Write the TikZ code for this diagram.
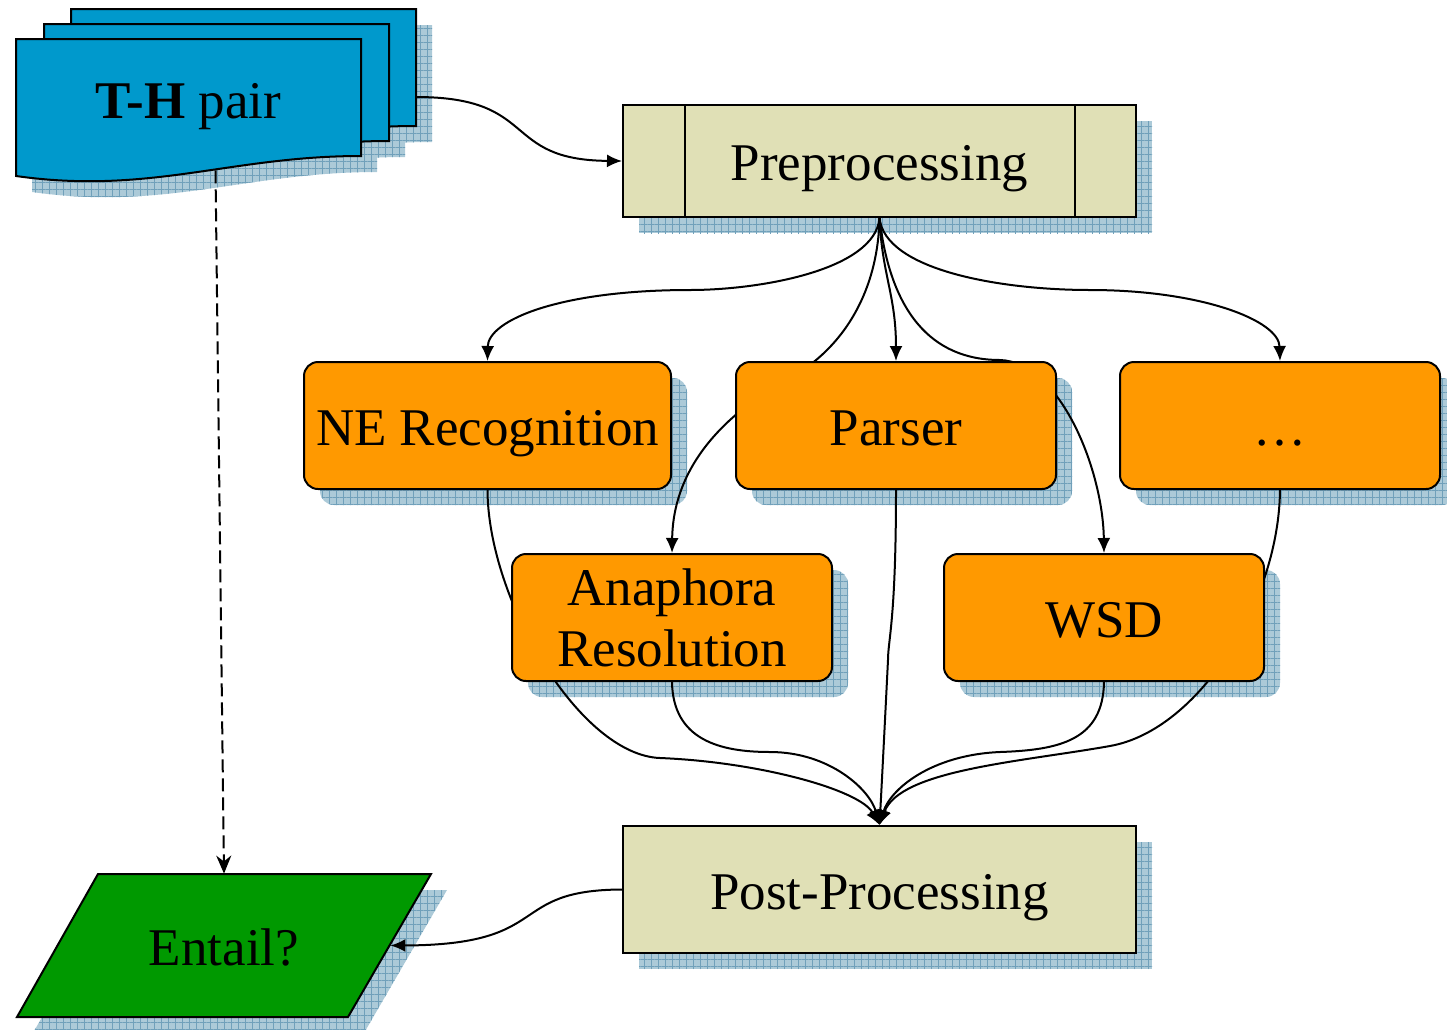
\documentclass[tikz,border=0pt]{standalone}
\usepackage{fontspec}
\setmainfont{Liberation Serif}
\usetikzlibrary{arrows.meta,patterns.meta}

\definecolor{docblue}{RGB}{0,153,204}
\definecolor{boxorange}{RGB}{255,153,0}
\definecolor{boxbeige}{RGB}{224,224,182}
\definecolor{boxgreen}{RGB}{0,153,0}
\definecolor{shadowfill}{RGB}{172,202,216}
\definecolor{shadowgrid}{RGB}{112,160,186}

\pgfdeclarelayer{shadows}
\pgfdeclarelayer{wires}
\pgfsetlayers{shadows,wires,main}

\begin{document}
\begin{tikzpicture}[
    x=0.5pt,y=0.5pt,
    >=Latex,
    wire/.style={draw=black, line width=1pt},
    arr/.style={wire, -{Latex[length=7.5pt,width=6.5pt]}},
    outline/.style={draw=black, line width=1pt},
    textfont/.style={font=\fontsize{26.5}{30.5}\selectfont},
    oneline/.style={text height=24pt, text depth=4.5pt},
    basebox/.style={outline, inner sep=0pt, textfont},
    procbox/.style={basebox, rectangle, fill=boxbeige, minimum width=256.5pt},
    modbox/.style={basebox, rectangle, rounded corners=7pt, fill=boxorange,
        minimum width=160pt, minimum height=63.5pt},
    backdrop/.style={draw=none, fill=shadowfill,
        postaction={pattern={Hatch[distance=3.5pt,angle=0,line width=0.35pt]}, pattern color=shadowgrid}}
]
\useasboundingbox (0,0) rectangle (1447,-1029);

% ===== document stack (back to front) =====
\foreach \dx/\dy in {55/30,28/15,0/0}{
  \begin{scope}[shift={(\dx,\dy)}]
    \path[outline, fill=docblue] (16,-39) -- (361,-39) -- (361,-156)
      .. controls (230,-156) and (150,-195) .. (16,-176) -- cycle;
  \end{scope}
}
\node[textfont, inner sep=0pt, minimum width=172.5pt, minimum height=65.5pt,
      text height=20pt, text depth=6.5pt] (th) at (188.5,-104.5) {\textbf{T-H} pair};
\coordinate (thback) at (416,-97);

% ===== processing boxes =====
\node[procbox, oneline, minimum height=56pt] (pre) at (879.5,-161) {Preprocessing};
\draw[wire] ([xshift=31.5pt]pre.north west) -- ([xshift=31.5pt]pre.south west);
\draw[wire] ([xshift=-31pt]pre.north east) -- ([xshift=-31pt]pre.south east);

\node[modbox, oneline, minimum width=183.5pt] (ne) at (487.5,-425.5) {NE Recognition};
\node[modbox, oneline] (parser) at (896,-425.5) {Parser};
\node[modbox, oneline] (more) at (1280,-425.5) {\ldots};
\node[modbox, align=center] (ana) at (672,-617.5) {Anaphora\\Resolution};
\node[modbox, oneline] (wsd) at (1104,-617.5) {WSD};

\node[procbox, oneline, minimum height=63.5pt] (post) at (879.5,-889.5) {Post-Processing};

% ===== result parallelogram =====
\begin{scope}[shift={(224,-945.5)}]
  \path[outline, fill=boxgreen] (-207,-71.5) -- (124,-71.5) -- (207,71.5) -- (-126,71.5) -- cycle;
\end{scope}
\node[textfont, oneline, inner sep=0pt, minimum width=166pt, minimum height=71.5pt]
  (entail) at (224,-945.5) {Entail?};

% ===== shadows =====
\begin{pgfonlayer}{shadows}
\foreach \dx/\dy in {55/30,28/15,0/0}{
  \begin{scope}[shift={(\dx+16,\dy-16)}]
    \path[backdrop] (16,-39) -- (361,-39) -- (361,-156)
      .. controls (230,-156) and (150,-195) .. (16,-176) -- cycle;
  \end{scope}
}
\begin{scope}[shift={(240,-961.5)}]
  \path[backdrop] (-207,-71.5) -- (124,-71.5) -- (207,71.5) -- (-126,71.5) -- cycle;
\end{scope}
\node[procbox, backdrop, minimum height=56pt] (pre-sh) at ([shift={(16,-16)}]pre.center) {};
\node[procbox, backdrop, minimum height=63.5pt] (post-sh) at ([shift={(16,-16)}]post.center) {};
\node[modbox, backdrop, minimum width=183.5pt] (ne-sh) at ([shift={(16,-16)}]ne.center) {};
\foreach \n in {parser,more,ana,wsd}
  \node[modbox, backdrop] (\n-sh) at ([shift={(16,-16)}]\n.center) {};
\end{pgfonlayer}

% ===== connectors =====
\begin{pgfonlayer}{wires}
\draw[arr] (thback) .. controls (540,-97) and (500,-160) .. (pre.west);

% fan out of preprocessing
\draw[arr] (pre.south) .. controls (875,-270) and (760,-290) .. (690,-290)
  .. controls (560,-290) and (488,-320) .. (ne.north);
\draw[arr] (pre.south) .. controls (878,-290) and (845,-345) .. (795,-375)
  .. controls (720,-415) and (673,-470) .. (ana.north);
\draw[arr] (pre.south) .. controls (882,-275) and (896,-295) .. (parser.north);
\draw[arr] (pre.south) .. controls (890,-310) and (930,-360) .. (1000,-360)
  .. controls (1060,-362) and (1103,-470) .. (wsd.north);
\draw[arr] (pre.south) .. controls (885,-270) and (1000,-290) .. (1090,-290)
  .. controls (1200,-290) and (1279,-320) .. (more.north);

% fan into post-processing
\draw[arr] (ne.south) .. controls (488,-600) and (580,-755) .. (660,-758)
  .. controls (760,-762) and (860,-790) .. (post.north);
\draw[arr] (ana.south) .. controls (673,-740) and (720,-752) .. (770,-752)
  .. controls (830,-752) and (870,-790) .. (post.north);
\draw[arr] (parser.south) .. controls (896,-620) and (888,-640) .. (888,-660)
  .. controls (886,-700) and (882,-780) .. (post.north);
\draw[arr] (wsd.south) .. controls (1103,-740) and (1060,-750) .. (1000,-752)
  .. controls (930,-755) and (890,-790) .. (post.north);
\draw[arr] (more.south) .. controls (1279,-600) and (1200,-730) .. (1110,-746)
  .. controls (1020,-762) and (900,-770) .. (post.north);

% result
\draw[arr] (post.west) .. controls (505,-890) and (555,-945) .. (entail.east);
\draw[wire, dash pattern=on 6.5pt off 3pt, -{Stealth[length=9pt,width=7.5pt]}]
  ([xshift=13.5pt]th.south) -- (entail.north);
\end{pgfonlayer}
\end{tikzpicture}
\end{document}
